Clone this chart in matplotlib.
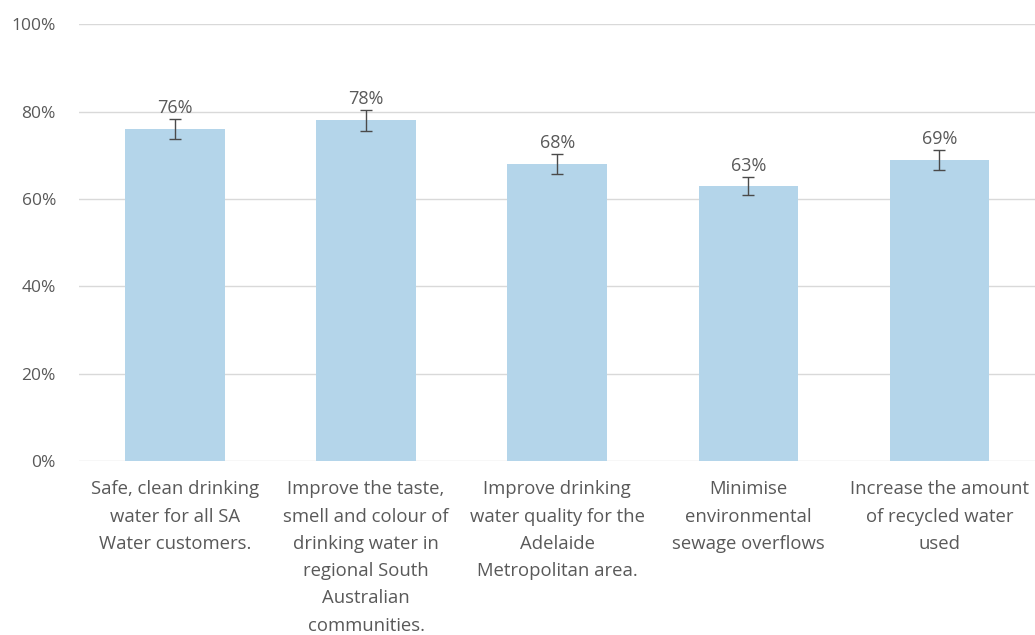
import matplotlib
matplotlib.use("Agg")
import matplotlib.pyplot as plt
import numpy as np

categories = [
    "Safe, clean drinking\nwater for all SA\nWater customers.",
    "Improve the taste,\nsmell and colour of\ndrinking water in\nregional South\nAustralian\ncommunities.",
    "Improve drinking\nwater quality for the\nAdelaide\nMetropolitan area.",
    "Minimise\nenvironmental\nsewage overflows",
    "Increase the amount\nof recycled water\nused",
]
values = [76, 78, 68, 63, 69]
errors = [2.3, 2.4, 2.3, 2.0, 2.3]
value_labels = ["76%", "78%", "68%", "63%", "69%"]
yticks = [0, 20, 40, 60, 80, 100]

plt.rcParams['font.family'] = ['Open Sans', 'DejaVu Sans']
text_color = "#595959"

fig = plt.figure(figsize=(10.35, 6.35), dpi=100)
ax = fig.add_axes([0.0768, 0.274, 0.923, 0.688])

x = np.arange(len(values))
ax.bar(x, values, width=0.52, color="#b4d5ea", zorder=2)
ax.errorbar(x, values, yerr=errors, fmt="none", ecolor="#4a4a4a", elinewidth=1.0,
            capsize=4, capthick=1.0, zorder=3)
for xi, v, e, lab in zip(x, values, errors, value_labels):
    ax.text(xi, v + e + 0.4, lab, ha="center", va="bottom", fontsize=13, color=text_color)

ax.set_xlim(-0.5, len(values) - 0.5)
ax.set_ylim(0, 100)
ax.set_yticks(yticks)
ax.set_yticklabels([f"{t}%" for t in yticks], fontsize=12.5, color=text_color)
ax.set_xticks(x)
ax.set_xticklabels(categories, fontsize=13.3, color=text_color, linespacing=1.66)
ax.tick_params(axis="x", length=0, pad=14)
ax.tick_params(axis="y", length=0, pad=17)
ax.grid(axis="y", color="#d9d9d9", linewidth=1.0, zorder=0)
for s in ax.spines.values():
    s.set_visible(False)

fig.savefig("out.png", dpi=100, facecolor="white")
